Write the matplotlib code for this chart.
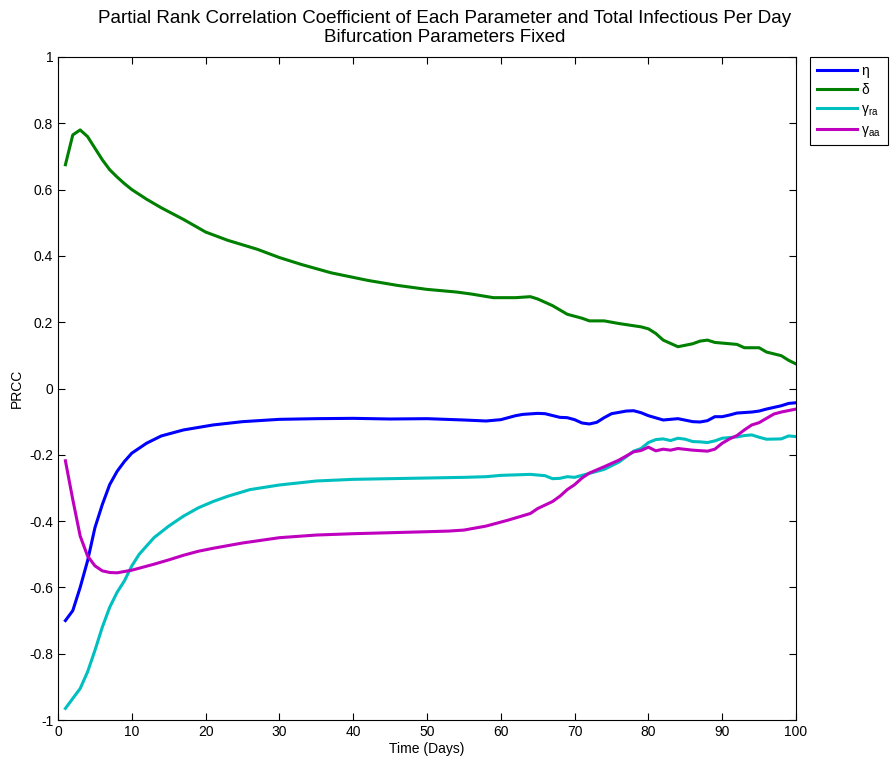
import matplotlib
matplotlib.use('Agg')
import matplotlib.pyplot as plt
from matplotlib.ticker import FuncFormatter

plt.rcParams['font.family'] = ['Liberation Sans', 'DejaVu Sans']
plt.rcParams['mathtext.default'] = 'regular'
plt.rcParams['axes.unicode_minus'] = False

# PRCC (day, value)
eta_days = [1, 2, 3, 4, 5, 6, 7, 8, 9, 10, 11, 12, 14, 17, 21, 25, 30, 35, 40, 45, 50, 55, 58, 60,
            62, 63, 65, 66, 68, 69, 70, 71, 72, 73, 74, 75, 77, 78, 79, 80, 82, 84, 86, 87, 88, 89,
            90, 91, 92, 94, 95, 96, 98, 99, 100]
eta_prcc = [-0.70, -0.67, -0.60, -0.52, -0.42, -0.35, -0.29, -0.25, -0.22, -0.195, -0.18, -0.165,
            -0.143, -0.125, -0.110, -0.100, -0.093, -0.091, -0.090, -0.092, -0.091, -0.095, -0.098,
            -0.094, -0.082, -0.078, -0.075, -0.076, -0.087, -0.088, -0.094, -0.104, -0.107, -0.102,
            -0.088, -0.076, -0.068, -0.067, -0.073, -0.082, -0.095, -0.091, -0.100, -0.101, -0.097,
            -0.085, -0.085, -0.080, -0.074, -0.071, -0.068, -0.062, -0.052, -0.045, -0.043]

delta_days = [1, 2, 3, 4, 5, 6, 7, 8, 9, 10, 12, 14, 17, 20, 23, 27, 30, 33, 37, 42, 46, 50, 54,
              56, 59, 62, 64, 65, 67, 69, 71, 72, 74, 76, 79, 80, 81, 82, 84, 86, 87, 88, 89, 92,
              93, 95, 96, 98, 99, 100]
delta_prcc = [0.675, 0.765, 0.78, 0.76, 0.725, 0.69, 0.66, 0.638, 0.618, 0.600, 0.571, 0.545, 0.51,
              0.472, 0.447, 0.42, 0.395, 0.374, 0.349, 0.326, 0.311, 0.299, 0.291, 0.285, 0.274,
              0.274, 0.277, 0.270, 0.25, 0.224, 0.212, 0.204, 0.204, 0.196, 0.186, 0.180, 0.166,
              0.146, 0.126, 0.135, 0.143, 0.146, 0.139, 0.133, 0.123, 0.123, 0.110, 0.099, 0.085,
              0.074]

gra_days = [1, 2, 3, 4, 5, 6, 7, 8, 9, 10, 11, 12, 13, 15, 17, 19, 21, 23, 26, 30, 35, 40, 45, 50,
            55, 58, 60, 64, 66, 67, 68, 69, 70, 72, 74, 76, 78, 79, 80, 81, 82, 83, 84, 85, 86, 87,
            88, 89, 90, 92, 93, 94, 95, 96, 98, 99, 100]
gra_prcc = [-0.965, -0.935, -0.905, -0.855, -0.79, -0.72, -0.66, -0.615, -0.58, -0.535, -0.50,
            -0.475, -0.45, -0.415, -0.385, -0.36, -0.341, -0.325, -0.305, -0.291, -0.279, -0.274,
            -0.272, -0.270, -0.268, -0.266, -0.262, -0.259, -0.263, -0.272, -0.271, -0.266, -0.268,
            -0.256, -0.244, -0.222, -0.189, -0.181, -0.163, -0.154, -0.152, -0.157, -0.150, -0.153,
            -0.160, -0.161, -0.163, -0.158, -0.150, -0.146, -0.142, -0.140, -0.147, -0.153, -0.152,
            -0.143, -0.145]

gaa_days = [1, 2, 3, 4, 5, 6, 7, 8, 9, 10, 11, 13, 15, 17, 19, 21, 25, 30, 35, 40, 45, 50, 53, 55,
            58, 61, 64, 65, 67, 68, 69, 70, 71, 72, 74, 76, 78, 79, 80, 81, 82, 83, 84, 86, 88, 89,
            90, 91, 92, 93, 94, 95, 96, 97, 98, 100]
gaa_prcc = [-0.218, -0.335, -0.445, -0.505, -0.535, -0.55, -0.555, -0.556, -0.552, -0.548, -0.542,
            -0.530, -0.517, -0.503, -0.491, -0.482, -0.466, -0.450, -0.442, -0.438, -0.435, -0.432,
            -0.430, -0.427, -0.415, -0.397, -0.377, -0.362, -0.341, -0.325, -0.305, -0.29, -0.27,
            -0.255, -0.236, -0.216, -0.191, -0.187, -0.177, -0.188, -0.183, -0.186, -0.181, -0.186,
            -0.189, -0.183, -0.165, -0.152, -0.142, -0.125, -0.110, -0.103, -0.090, -0.077, -0.071,
            -0.062]

fig = plt.figure(figsize=(8.9, 7.65), dpi=100)
ax = fig.add_axes([0.0652, 0.0588, 0.8292, 0.8667])

lw = 2.2
ax.plot(eta_days, eta_prcc, color=(0, 0, 1), lw=lw, label='η')
ax.plot(delta_days, delta_prcc, color=(0, 0.5, 0), lw=lw, label='δ')
ax.plot(gra_days, gra_prcc, color=(0, 0.75, 0.75), lw=lw, label='γ$_{ra}$')
ax.plot(gaa_days, gaa_prcc, color=(0.75, 0, 0.75), lw=lw, label='γ$_{aa}$')

ax.set_xlim(0, 100)
ax.set_ylim(-1, 1)
ax.set_xticks(range(0, 101, 10))
ax.set_yticks([i / 10 for i in range(-10, 11, 2)])
ax.yaxis.set_major_formatter(FuncFormatter(lambda v, p: '%g' % round(v, 1)))
ax.tick_params(direction='in', top=True, right=True, length=5, labelsize=10, width=0.8)
for s in ax.spines.values():
    s.set_linewidth(0.8)

ax.set_xlabel('Time (Days)', fontsize=10, labelpad=2)
ax.set_ylabel('PRCC', fontsize=10, labelpad=4)
# the title in the original sits a bit right of the axes centre
ax.set_title('Partial Rank Correlation Coefficient of Each Parameter and Total Infectious Per Day\n'
             'Bifurcation Parameters Fixed', fontsize=13.5, pad=11, linespacing=1.1, x=0.524)

leg = fig.legend(loc='upper left', bbox_to_anchor=(810 / 890, 1 - 57 / 765), fontsize=10,
                 fancybox=False, edgecolor='black', framealpha=1, handlelength=2.9,
                 handletextpad=0.3, borderpad=0.5, borderaxespad=0, labelspacing=0.35)
leg.get_frame().set_linewidth(0.8)

plt.savefig('out.png', dpi=100)
